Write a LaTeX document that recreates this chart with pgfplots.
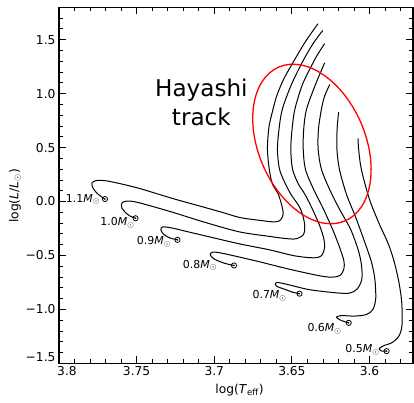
\documentclass[border=0pt]{standalone}
\usepackage{fontspec}
\setmainfont{DejaVu Sans}
\usepackage{pgfplots}
\pgfplotsset{compat=1.18}
\usetikzlibrary{calc}
\begin{document}
\begin{tikzpicture}
\begin{axis}[
  name=ax,
  scale only axis,
  width=354bp, height=356bp,
  x dir=reverse,
  xmin=3.572, xmax=3.8,
  ymin=-1.5, ymax=1.8,
  xtick={3.6,3.65,3.7,3.75,3.8},
  xticklabels={3.6,3.65,3.7,3.75,\hspace*{16bp}3.8},
  ytick={-1.5,-1,-0.5,0,0.5,1,1.5},
  yticklabels={\raisebox{12bp}{−1.5},−1.0,−0.5,0.0,0.5,1.0,1.5},
  minor xtick={3.58,3.59,3.61,3.62,3.63,3.64,3.66,3.67,3.68,3.69,3.71,3.72,3.73,3.74,3.76,3.77,3.78,3.79},
  minor ytick={-1.4,-1.3,-1.2,-1.1,-0.9,-0.8,-0.7,-0.6,-0.4,-0.3,-0.2,-0.1,0.1,0.2,0.3,0.4,0.6,0.7,0.8,0.9,1.1,1.2,1.3,1.4,1.6,1.7},
  tick align=inside,
  major tick length=7bp,
  minor tick length=4bp,
  every tick/.style={black, line width=0.8bp},
  axis line style={line width=1.2bp},
  ticklabel style={font=\fontsize{12.3}{14}\selectfont},
  label style={font=\fontsize{12.3}{14}\selectfont},
  xlabel={log(\textit{T}\textsubscript{eff})},
  ylabel={log(\textit{L}/\textit{L}$_\odot$)},
  xlabel style={at={(axis description cs:0.51,-0.075)}, anchor=center},
  ylabel style={at={(axis description cs:-0.124,0.47)}, anchor=center},
  clip=false,
]
% 1.1 Msun
\addplot[black, line width=1bp, smooth, tension=0.5] coordinates {
(3.6332,1.6477) (3.6413,1.4815) (3.6493,1.2876) (3.6554,1.1307) (3.6599,0.9737)
(3.6625,0.8352) (3.6647,0.6967) (3.6657,0.5305) (3.6655,0.4197) (3.6644,0.2812)
(3.6625,0.1611) (3.6588,0.0688) (3.6564,-0.0420) (3.6556,-0.1159) (3.6573,-0.1713)
(3.6612,-0.1897) (3.6728,-0.1713) (3.6837,-0.1482) (3.6946,-0.1020) (3.7094,-0.0420)
(3.7267,0.0272) (3.7479,0.1196) (3.7608,0.1657) (3.7704,0.1934) (3.7762,0.1934)
(3.7788,0.1704) (3.7781,0.1242) (3.7756,0.0780) (3.7724,0.0411) (3.7704,0.0226)};
% 1.0 Msun
\addplot[black, line width=1bp, smooth, tension=0.5] coordinates {
(3.6301,1.5859) (3.6368,1.4538) (3.6434,1.2876) (3.6503,1.0845) (3.6562,0.8536)
(3.6583,0.6690) (3.6593,0.4843) (3.6580,0.2996) (3.6541,0.1611) (3.6503,0.0596)
(3.6451,-0.0512) (3.6427,-0.1436) (3.6417,-0.2359) (3.6427,-0.3098) (3.6477,-0.3467)
(3.6548,-0.3421) (3.6644,-0.3236) (3.6837,-0.2821) (3.7062,-0.1925) (3.7274,-0.0974)
(3.7490,-0.0097) (3.7563,0.0042) (3.7595,-0.0143) (3.7595,-0.0605) (3.7569,-0.1066)
(3.7544,-0.1343) (3.7507,-0.1556)};
% 0.9 Msun
\addplot[black, line width=1bp, smooth, tension=0.5] coordinates {
(3.6289,1.4631) (3.6335,1.3615) (3.6363,1.2876) (3.6432,1.0845) (3.6481,0.8536)
(3.6499,0.6690) (3.6507,0.4843) (3.6496,0.2996) (3.6458,0.1611) (3.6417,0.0688)
(3.6368,-0.0697) (3.6321,-0.2239) (3.6294,-0.3467) (3.6290,-0.4298) (3.6310,-0.5037)
(3.6361,-0.5222) (3.6483,-0.5037) (3.6644,-0.4483) (3.6837,-0.3929) (3.7030,-0.3283)
(3.7158,-0.2849) (3.7274,-0.2452) (3.7332,-0.2359) (3.7344,-0.2636) (3.7325,-0.3052)
(3.7287,-0.3375) (3.7237,-0.3560)};
% 0.8 Msun
\addplot[black, line width=1bp, smooth, tension=0.5] coordinates {
(3.6289,1.2849) (3.6348,1.0845) (3.6406,0.8536) (3.6424,0.6690) (3.6427,0.4843)
(3.6413,0.2996) (3.6361,0.1150) (3.6297,-0.0697) (3.6239,-0.2544) (3.6194,-0.4206)
(3.6165,-0.5499) (3.6165,-0.6237) (3.6188,-0.6837) (3.6239,-0.7022) (3.6323,-0.6884)
(3.6515,-0.6283) (3.6708,-0.5591) (3.6837,-0.5157) (3.6952,-0.4788) (3.7010,-0.4695)
(3.7026,-0.4945) (3.6997,-0.5360) (3.6933,-0.5729) (3.6873,-0.5933)};
% 0.7 Msun
\addplot[black, line width=1bp, smooth, tension=0.5] coordinates {
(3.6256,1.0845) (3.6290,0.9737) (3.6310,0.8536) (3.6329,0.6690) (3.6331,0.4843)
(3.6310,0.2996) (3.6258,0.1150) (3.6194,-0.0697) (3.6123,-0.2544) (3.6075,-0.4391)
(3.6053,-0.5776) (3.6049,-0.7161) (3.6078,-0.8084) (3.6130,-0.8500) (3.6226,-0.8453)
(3.6387,-0.8176) (3.6496,-0.7807) (3.6580,-0.7530) (3.6605,-0.7576) (3.6599,-0.7853)
(3.6548,-0.8130) (3.6496,-0.8407) (3.6451,-0.8546)};
% 0.6 Msun
\addplot[black, line width=1bp, smooth, tension=0.5] coordinates {
(3.6199,0.8287) (3.6209,0.6690) (3.6210,0.4843) (3.6194,0.2996) (3.6149,0.0688)
(3.6085,-0.1620) (3.6027,-0.3929) (3.5988,-0.5591) (3.5966,-0.7161) (3.5960,-0.9007)
(3.5979,-1.0023) (3.6021,-1.0485) (3.6098,-1.0623) (3.6181,-1.0577) (3.6213,-1.0716)
(3.6194,-1.0946) (3.6162,-1.1131) (3.6134,-1.1251)};
% 0.5 Msun
\addplot[black, line width=1bp, smooth, tension=0.5] coordinates {
(3.6074,0.5859) (3.6070,0.4843) (3.6053,0.2996) (3.6001,0.0226) (3.5937,-0.2082)
(3.5879,-0.3929) (3.5841,-0.5591) (3.5809,-0.7622) (3.5792,-0.9469) (3.5791,-1.1473)
(3.5809,-1.2424) (3.5853,-1.3070) (3.5905,-1.3347) (3.5937,-1.3624) (3.5924,-1.3855)
(3.5890,-1.3873)};
% ZAMS markers
\addplot[only marks, mark=o, mark size=2.6bp, mark options={line width=0.8bp, black, fill=white}] coordinates {
(3.7704,0.0226) (3.7507,-0.1556) (3.7237,-0.3560) (3.6873,-0.5933)
(3.6451,-0.8546) (3.6134,-1.1251) (3.5890,-1.3873)};
\addplot[only marks, mark=*, mark size=0.5bp, black] coordinates {
(3.7704,0.0226) (3.7507,-0.1556) (3.7237,-0.3560) (3.6873,-0.5933)
(3.6451,-0.8546) (3.6134,-1.1251) (3.5890,-1.3873)};
% mass labels
\begin{scope}[every node/.style={font=\fontsize{11}{13}\selectfont, anchor=base, inner sep=0pt}]
\node at (axis cs:3.7846,-0.0051) {1.1\textit{M}$_\odot$};
\node at (axis cs:3.7624,-0.2267) {1.0\textit{M}$_\odot$};
\node at (axis cs:3.7389,-0.4021) {0.9\textit{M}$_\odot$};
\node at (axis cs:3.7092,-0.6191) {0.8\textit{M}$_\odot$};
\node at (axis cs:3.6644,-0.9007) {0.7\textit{M}$_\odot$};
\node at (axis cs:3.6290,-1.2054) {0.6\textit{M}$_\odot$};
\node at (axis cs:3.6046,-1.3994) {0.5\textit{M}$_\odot$};
\end{scope}
% Hayashi annotation
\node[font=\fontsize{23.2}{28}\selectfont, anchor=base, inner sep=0pt] at (axis cs:3.7083,0.9765) {Hayashi};
\node[font=\fontsize{23.2}{28}\selectfont, anchor=base, inner sep=0pt] at (axis cs:3.7083,0.7087) {track};
\draw[red, line width=1.3bp, rotate around={-66.7:(axis cs:3.6371,0.533)}] (axis cs:3.6371,0.533) ellipse [x radius=83.75bp, y radius=53.4bp];
\end{axis}
\pgfresetboundingbox
\path ($(ax.south west)+(-59bp,-39.7bp)$) rectangle ($(ax.north east)+(1bp,7.3bp)$);
\end{tikzpicture}
\end{document}
